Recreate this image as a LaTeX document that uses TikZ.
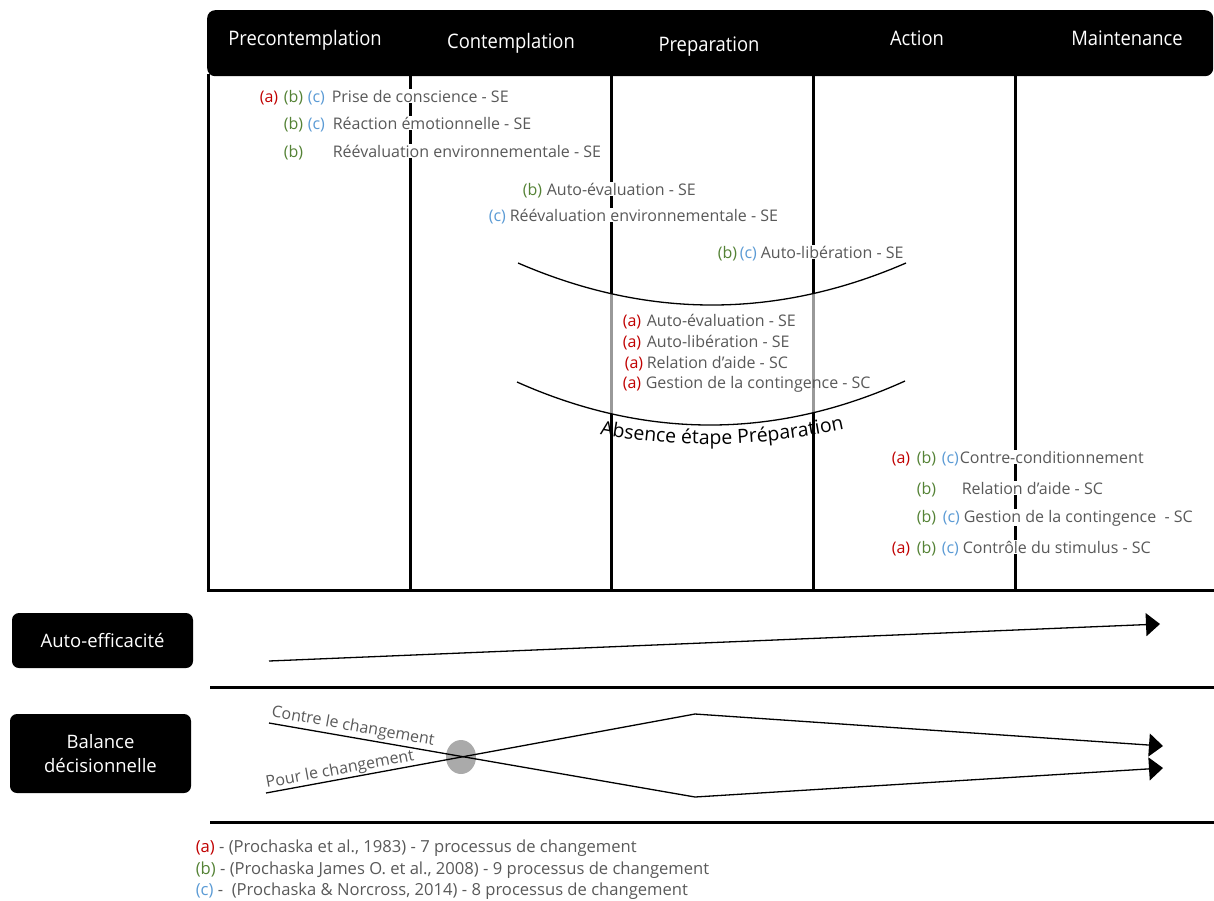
\documentclass[tikz,border=0pt]{standalone}
\usepackage{fontspec}
\setmainfont{Open Sans}
\newfontfamily\hdrfont{Open Sans}[FakeStretch=0.92]
\usetikzlibrary{arrows.meta,decorations.text}
\definecolor{cA}{RGB}{192,0,0}
\definecolor{cB}{RGB}{84,130,53}
\definecolor{cC}{RGB}{91,155,213}
\definecolor{txtgray}{RGB}{89,89,89}
\definecolor{dotgray}{RGB}{170,170,170}
\begin{document}
\begin{tikzpicture}[x=1pt,y=-1pt,
  lbl/.style={anchor=base west, inner sep=0.6pt, fill=white, font=\fontsize{16}{19}\selectfont, text=txtgray},
  midlbl/.style={lbl, fill=none},
  leglbl/.style={midlbl, font=\fontsize{16.6}{19}\selectfont},
  hdr/.style={anchor=base, text=white, font=\hdrfont\fontsize{20}{24}\selectfont},
  sidebox/.style={fill=black, rounded corners=7pt, text=white, align=center, inner sep=0pt, font=\fontsize{18.5}{24}\selectfont},
  gridline/.style={line width=3pt},
  thinline/.style={line width=1.3pt},
  tip/.style={-{Triangle[length=14pt,width=23pt]}},
  rotlbl/.style={text=txtgray, font=\fontsize{16}{18}\selectfont, inner sep=0pt}
]
\useasboundingbox (0,0) rectangle (1214,900);

% header bar
\node[fill=black, rounded corners=8pt, minimum width=1006pt, minimum height=66pt, anchor=north west, inner sep=0pt] (header) at (207,10) {};

% vertical grid lines
\foreach \x/\n in {208/v0,410/v1,611/v2,813/v3,1015/v4}{
  \coordinate (\n t) at (\x,74);
  \coordinate (\n b) at (\x,591.5);
  \draw[gridline] (\n t) -- (\n b);
}
% horizontal lines
\coordinate (h1l) at (206.5,590); \coordinate (h1r) at (1214,590);
\coordinate (h2l) at (210,687);   \coordinate (h2r) at (1214,687);
\coordinate (h3l) at (210,822);   \coordinate (h3r) at (1214,822);
\draw[gridline] (h1l) -- (h1r);
\draw[gridline] (h2l) -- (h2r);
\draw[gridline] (h3l) -- (h3r);

% header texts
\node[hdr] (hPre) at (305,45) {Precontemplation};
\node[hdr] (hCon) at (511,48) {Contemplation};
\node[hdr] (hPrep) at (709,51) {Preparation};
\node[hdr] (hAct) at (917,45) {Action};
\node[hdr] (hMai) at (1127,45) {Maintenance};

% curve end points
\coordinate (cu1) at (518,263); \coordinate (cu2) at (906,263);
\coordinate (cl1) at (517,382); \coordinate (cl2) at (905,381);

% translucent band between the two curves
\begin{scope}
  \clip (603,250) rectangle (821,470);
  \fill[white, opacity=0.6] (cu1) .. controls (647.3,319) and (776.7,319) .. (cu2) -- (cl2) .. controls (776.3,439.3) and (646.3,439.7) .. (cl1) -- cycle;
\end{scope}

% curves
\draw[thinline] (cu1) .. controls (647.3,319) and (776.7,319) .. (cu2);
\draw[thinline] (cl1) .. controls (646.3,439.7) and (776.3,439.3) .. (cl2);
\path[decorate, decoration={text along path, text align=center,
  text={|\fontsize{19.5}{24}\selectfont|Absence étape Préparation}}]
  (594,433) .. controls (676.7,449.3) and (762,447.7) .. (850,428);

% Precontemplation / Contemplation list
\node[lbl,text=cA] (r1a) at (259,102) {(a)};
\node[lbl,text=cB] (r1b) at (283,102) {(b)};
\node[lbl,text=cC] (r1c) at (307,102) {(c)};
\node[lbl] (r1) at (331,102) {Prise de conscience - SE};
\node[lbl,text=cB] (r2b) at (283,129) {(b)};
\node[lbl,text=cC] (r2c) at (307,129) {(c)};
\node[lbl] (r2) at (332,129) {Réaction émotionnelle - SE};
\node[lbl,text=cB] (r3b) at (283,157) {(b)};
\node[lbl] (r3) at (332,157) {Réévaluation environnementale - SE};
\node[lbl,text=cB] (r4b) at (522,195) {(b)};
\node[lbl] (r4) at (546,195) {Auto-évaluation - SE};
\node[lbl,text=cC] (r5c) at (488,221) {(c)};
\node[lbl] (r5) at (509,221) {Réévaluation environnementale - SE};
\node[lbl,text=cB] (r6b) at (717,258) {(b)};
\node[lbl,text=cC] (r6c) at (739,258) {(c)};
\node[lbl] (r6) at (760,258) {Auto-libération - SE};

% middle list
\node[midlbl,text=cA] (m1a) at (622,326) {(a)};
\node[midlbl] (m1) at (646,326) {Auto-évaluation - SE};
\node[midlbl,text=cA] (m2a) at (622,347) {(a)};
\node[midlbl] (m2) at (646,347) {Auto-libération - SE};
\node[midlbl,text=cA] (m3a) at (624,368) {(a)};
\node[midlbl] (m3) at (646,368) {Relation d'aide - SC};
\node[midlbl,text=cA] (m4a) at (622,388) {(a)};
\node[midlbl] (m4) at (645,388) {Gestion de la contingence - SC};

% Action / Maintenance list
\node[lbl,text=cA] (q1a) at (891,463) {(a)};
\node[lbl,text=cB] (q1b) at (916,463) {(b)};
\node[lbl,text=cC] (q1c) at (941,463) {(c)};
\node[lbl] (q1) at (959,463) {Contre-conditionnement};
\node[lbl,text=cB] (q2b) at (916,494) {(b)};
\node[lbl] (q2) at (961,494) {Relation d'aide - SC};
\node[lbl,text=cB] (q3b) at (916,522) {(b)};
\node[lbl,text=cC] (q3c) at (942,522) {(c)};
\node[lbl] (q3) at (963,522) {Gestion de la contingence\ \ - SC};
\node[lbl,text=cA] (q4a) at (891,553) {(a)};
\node[lbl,text=cB] (q4b) at (916,553) {(b)};
\node[lbl,text=cC] (q4c) at (941,553) {(c)};
\node[lbl] (q4) at (962,553) {Contrôle du stimulus - SC};

% side boxes
\node[sidebox, minimum width=181pt, minimum height=55pt] (ae) at (102.5,640.5) {Auto-efficacité};
\node[sidebox, minimum width=181pt, minimum height=79pt] (bd) at (100.5,753.5) {Balance\\décisionnelle};

% auto-efficacite arrow
\coordinate (ae1) at (269,661); \coordinate (ae2) at (1160,624);
\draw[thinline, tip] (ae1) -- (ae2);

% decisional balance
\coordinate (ct1) at (269,723); \coordinate (ct2) at (695,797); \coordinate (ct3) at (1163,768);
\coordinate (po1) at (266,793); \coordinate (po2) at (695,714); \coordinate (po3) at (1163,746);
\fill[dotgray] (461,757) ellipse [x radius=15pt, y radius=17pt];
\draw[thinline, tip] (ct1) -- (ct2) -- (ct3);
\draw[thinline, tip] (po1) -- (po2) -- (po3);
\node[rotlbl, rotate=-10] (lct) at (353,727) {Contre le changement};
\node[rotlbl, rotate=10.5] (lpo) at (340,770) {Pour le changement};

% legend
\node[leglbl] (la) at (195,852) {\textcolor{cA}{(a)} - (Prochaska et al., 1983) - 7 processus de changement};
\node[leglbl] (lb) at (195,874) {\textcolor{cB}{(b)} - (Prochaska James O. et al., 2008) - 9 processus de changement};
\node[leglbl] (lc) at (195,895) {\textcolor{cC}{(c)} -\ \ (Prochaska \& Norcross, 2014) - 8 processus de changement};
\end{tikzpicture}
\end{document}
